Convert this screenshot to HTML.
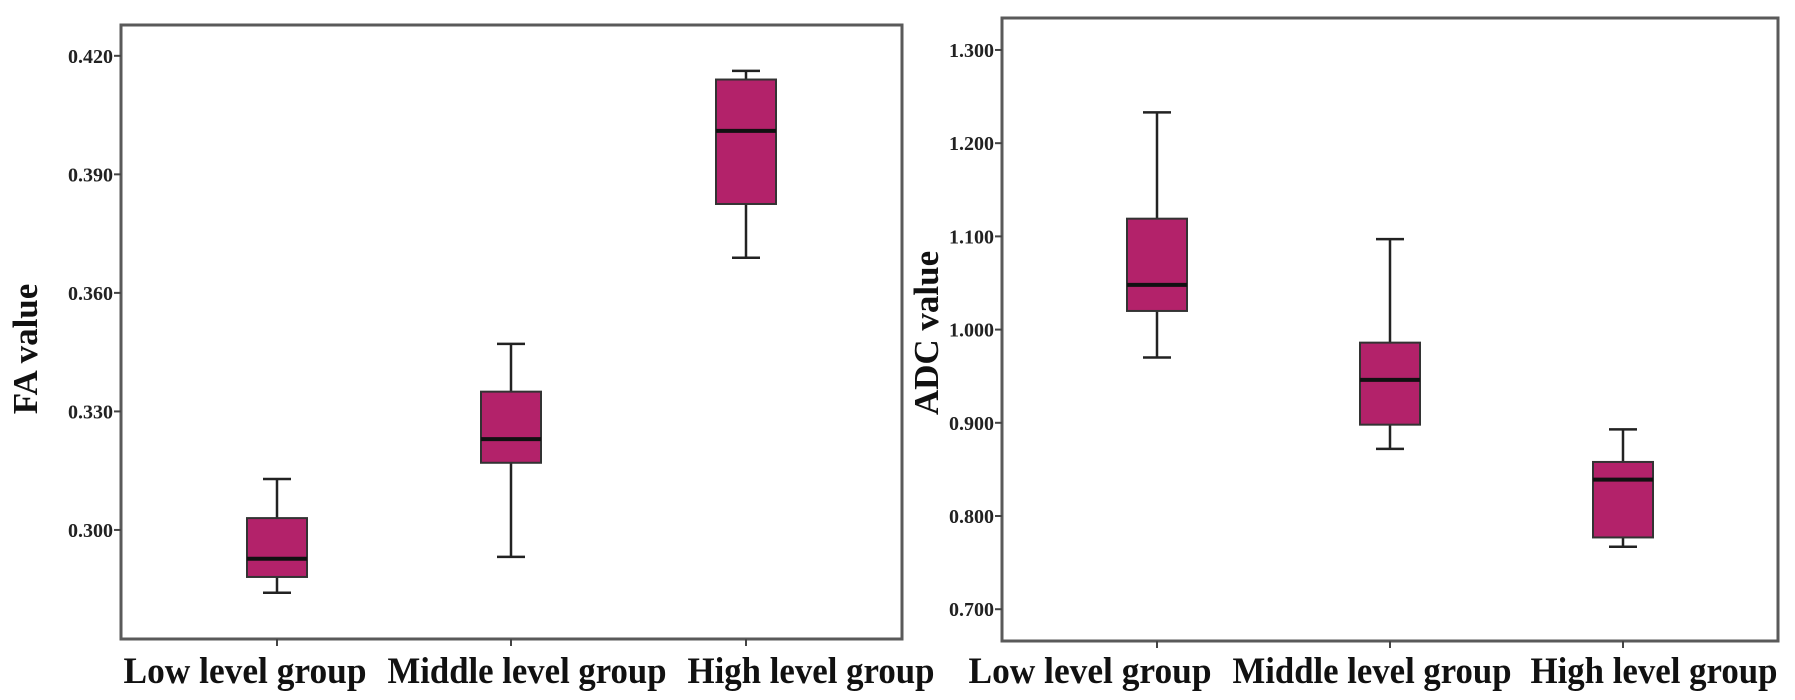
<!DOCTYPE html>
<html><head><meta charset="utf-8"><style>
html,body{margin:0;padding:0;background:#fff;}
svg{display:block;font-family:"Liberation Serif",serif;font-weight:bold;}
</style></head><body>
<svg id="c" width="1795" height="700" viewBox="0 0 1795 700"></svg>
<script>
const categories = ["Low level group","Middle level group","High level group"];
const faMin = [0.2841, 0.2932, 0.3689];
const faQ1 = [0.2881, 0.3170, 0.3825];
const faMed = [0.2927, 0.3230, 0.4010];
const faQ3 = [0.3030, 0.3350, 0.4140];
const faMax = [0.3129, 0.3471, 0.4162];
const faTicks = [0.300, 0.330, 0.360, 0.390, 0.420];
const adcMin = [0.970, 0.872, 0.767];
const adcQ1 = [1.020, 0.898, 0.777];
const adcMed = [1.048, 0.946, 0.839];
const adcQ3 = [1.119, 0.986, 0.858];
const adcMax = [1.233, 1.097, 0.893];
const adcTicks = [0.700, 0.800, 0.900, 1.000, 1.100, 1.200, 1.300];

const NS = "http://www.w3.org/2000/svg";
const svg = document.getElementById("c");
function mk(tag, attrs, parent){
  const e = document.createElementNS(NS, tag);
  for (const k in attrs) e.setAttribute(k, attrs[k]);
  (parent||svg).appendChild(e);
  return e;
}
const labelW = [243, 279, 247];
function panel(p){
  const g = mk("g", {});
  
  
  const y = v => p.y0 + (p.vmax - v) / (p.vmax - p.vmin) * (p.y1 - p.y0);
  const x = i => p.cx[i];
  const fr = mk("rect", {x:p.x0, y:p.y0, width:p.x1-p.x0, height:p.y1-p.y0, fill:"none", stroke:"#5a5a5a", "stroke-width":3}, g);
  
  
  p.ticks.forEach(t => {
    const ty = y(t);
    mk("line", {x1:p.x0-7, x2:p.x0, y1:ty, y2:ty, stroke:"#444", "stroke-width":2}, g);
    const tx = mk("text", {x:p.x0-8, y:ty+7, "text-anchor":"end", "font-size":20, fill:"#222"}, g);
    tx.textContent = t.toFixed(3);
    
    
  });
  const yt = mk("text", {x:0, y:0, "text-anchor":"middle", "font-size":35, fill:"#111",
    transform:`translate(${p.titleX},${p.titleY}) rotate(-90)`}, g);
  yt.textContent = p.title;
  
  
  categories.forEach((c, i) => {
    const cx = x(i);
    mk("line", {x1:cx, x2:cx, y1:p.y1, y2:p.y1+7, stroke:"#444", "stroke-width":2}, g);
    const lt = mk("text", {x:p.lx[i], y:683, "text-anchor":"middle", "font-size":37, fill:"#111",
      textLength:labelW[i], lengthAdjust:"spacingAndGlyphs"}, g);
    lt.textContent = c;
    
    
    const bg = mk("g", {}, g);
    
    
    const hw = 30, cw = 14;
    mk("line", {x1:cx, x2:cx, y1:y(p.max[i]), y2:y(p.q3[i]), stroke:"#222", "stroke-width":2.5}, bg);
    mk("line", {x1:cx, x2:cx, y1:y(p.q1[i]), y2:y(p.min[i]), stroke:"#222", "stroke-width":2.5}, bg);
    mk("line", {x1:cx-cw, x2:cx+cw, y1:y(p.max[i]), y2:y(p.max[i]), stroke:"#222", "stroke-width":2.5}, bg);
    mk("line", {x1:cx-cw, x2:cx+cw, y1:y(p.min[i]), y2:y(p.min[i]), stroke:"#222", "stroke-width":2.5}, bg);
    mk("rect", {x:cx-hw, y:y(p.q3[i]), width:hw*2, height:y(p.q1[i])-y(p.q3[i]), fill:"#b3226a", stroke:"#333", "stroke-width":2}, bg);
    mk("line", {x1:cx-hw, x2:cx+hw, y1:y(p.med[i]), y2:y(p.med[i]), stroke:"#111", "stroke-width":4}, bg);
  });
}
panel({name:"fa-panel", x0:121, x1:902, y0:25, y1:639, vmin:0.2724, vmax:0.4278, cx:[277,511,746], lx:[245,527,811],
  ticks:faTicks, title:"FA value", titleX:37, titleY:349, min:faMin, q1:faQ1, med:faMed, q3:faQ3, max:faMax});
panel({name:"adc-panel", x0:1002, x1:1778, y0:18, y1:641, vmin:0.6659, vmax:1.3343, cx:[1157,1390,1623], lx:[1090,1372,1654],
  ticks:adcTicks, title:"ADC value", titleX:938, titleY:333, min:adcMin, q1:adcQ1, med:adcMed, q3:adcQ3, max:adcMax});
</script>
</body></html>
